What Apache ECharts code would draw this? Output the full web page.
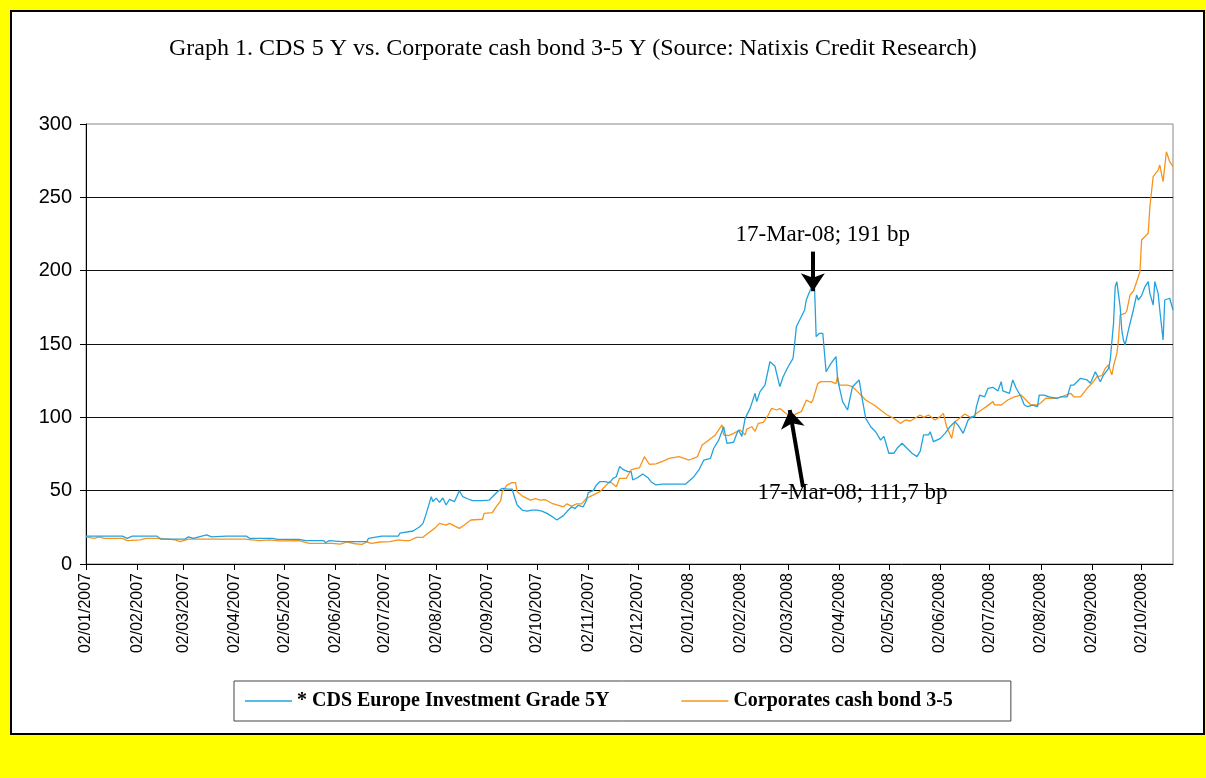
<!DOCTYPE html>
<html>
<head>
<meta charset="utf-8">
<script src="https://cdn.jsdelivr.net/npm/echarts@6/dist/echarts.min.js"></script>
<style>
  html, body { margin: 0; padding: 0; background: #FFFF00; }
  #wrap { position: relative; width: 1206px; height: 778px; background: #FFFF00; overflow: hidden; }
  #frame { position: absolute; left: 10px; top: 10px; width: 1191px; height: 721px; background: #fff; border: 2px solid #000; }
  #chart { position: absolute; left: 0; top: 0; width: 1206px; height: 778px; }
</style>
</head>
<body>
<div id="wrap"><div id="frame"></div><div id="chart"></div></div>
<script>
// ---------- DATA ----------
const titleText = 'Graph 1. CDS 5 Y vs. Corporate cash bond 3-5 Y (Source: Natixis Credit Research)';
const seriesNames = ['* CDS Europe Investment Grade 5Y', 'Corporates cash bond 3-5'];
const axisStart = '2007-01-02';
const axisEnd = '2008-10-21';
const yTicks = [0, 50, 100, 150, 200, 250, 300];

const cdsDates = [
'2007-01-02','2007-01-24','2007-01-27','2007-01-30','2007-02-14','2007-02-16','2007-03-03','2007-03-05','2007-03-08','2007-03-16',
'2007-03-19','2007-03-28','2007-04-09','2007-04-11','2007-04-25','2007-04-28','2007-05-11','2007-05-15','2007-05-26','2007-05-27',
'2007-05-29','2007-06-06','2007-06-21','2007-06-22','2007-06-30','2007-07-10','2007-07-11','2007-07-19','2007-07-23','2007-07-25',
'2007-07-27','2007-07-30','2007-07-31','2007-08-02','2007-08-04','2007-08-06','2007-08-08','2007-08-10','2007-08-13','2007-08-16',
'2007-08-18','2007-08-21','2007-08-24','2007-08-30','2007-09-03','2007-09-08','2007-09-11','2007-09-14','2007-09-17','2007-09-18',
'2007-09-20','2007-09-23','2007-09-26','2007-09-29','2007-10-02','2007-10-05','2007-10-08','2007-10-11','2007-10-14','2007-10-15',
'2007-10-18','2007-10-21','2007-10-23','2007-10-25','2007-10-27','2007-10-30','2007-11-01','2007-11-02','2007-11-05','2007-11-07',
'2007-11-09','2007-11-12','2007-11-15','2007-11-17','2007-11-19','2007-11-21','2007-11-23','2007-11-26','2007-11-28','2007-11-29',
'2007-12-02','2007-12-05','2007-12-08','2007-12-10','2007-12-13','2007-12-17','2007-12-31','2008-01-05','2008-01-08','2008-01-11',
'2008-01-15','2008-01-17','2008-01-20','2008-01-23','2008-01-25','2008-01-29','2008-01-31','2008-02-01','2008-02-03','2008-02-05',
'2008-02-08','2008-02-11','2008-02-12','2008-02-14','2008-02-17','2008-02-20','2008-02-23','2008-02-26','2008-02-28','2008-03-02',
'2008-03-05','2008-03-06','2008-03-07','2008-03-10','2008-03-12','2008-03-13','2008-03-15','2008-03-17','2008-03-18','2008-03-19',
'2008-03-21','2008-03-23','2008-03-25','2008-03-28','2008-03-31','2008-04-01','2008-04-04','2008-04-07','2008-04-10','2008-04-11',
'2008-04-14','2008-04-16','2008-04-18','2008-04-21','2008-04-24','2008-04-27','2008-04-29','2008-05-02','2008-05-05','2008-05-07',
'2008-05-10','2008-05-13','2008-05-16','2008-05-19','2008-05-21','2008-05-23','2008-05-26','2008-05-27','2008-05-29','2008-06-02',
'2008-06-05','2008-06-08','2008-06-11','2008-06-13','2008-06-16','2008-06-19','2008-06-21','2008-06-23','2008-06-24','2008-06-26',
'2008-06-27','2008-06-29','2008-07-01','2008-07-04','2008-07-07','2008-07-09','2008-07-10','2008-07-14','2008-07-16','2008-07-18',
'2008-07-21','2008-07-23','2008-07-25','2008-07-28','2008-07-31','2008-08-01','2008-08-04','2008-08-07','2008-08-08','2008-08-12',
'2008-08-14','2008-08-18','2008-08-20','2008-08-22','2008-08-26','2008-08-30','2008-09-01','2008-09-04','2008-09-07','2008-09-09',
'2008-09-12','2008-09-13','2008-09-15','2008-09-16','2008-09-17','2008-09-19','2008-09-20','2008-09-21','2008-09-22','2008-09-24',
'2008-09-27','2008-09-29','2008-09-30','2008-10-02','2008-10-04','2008-10-06','2008-10-07','2008-10-09','2008-10-10','2008-10-12',
'2008-10-13','2008-10-15','2008-10-16','2008-10-19','2008-10-21'
];
const cdsValues = [
19,19,17.5,19,19,17,17,18.5,17.5,19.8,
18.5,19,19,17.5,17.5,16.8,16.8,15.9,15.9,14.5,
15.9,15.2,15.2,17.5,19,19,21,22.5,25.4,27.7,
34.5,45.9,42.6,44.9,42,45,40.2,44,42.5,50,
46,44.5,43.2,43.2,43.5,49.3,51.6,51,51,47,
40.2,36.8,36,36.8,36.8,36,34.5,32.5,30,29.3,
33,36.8,39,37.8,40,39,43.6,48.6,50,53.9,
56.1,56.1,55.5,58.4,59.5,66.4,64.5,63,63,57.3,
59,61.4,59,56.1,53.9,54.5,54.5,59.5,64.1,70.9,
72,78.9,84.5,93.6,82.3,83,89,91.4,87,99.3,
106.1,116.4,110.7,117.5,122,137.9,135,120.9,127.7,134.5,
140.2,150.5,161.8,168.6,173.2,180,185.7,191,189,155,
157.3,157.3,131.1,136.8,141.4,125.5,110.7,105,120.9,122,
125.5,111.8,99.3,93.6,90.2,84.5,87,75.5,75.5,78.9,
82.3,78.9,75.5,73.2,77,88,88,90.2,83.4,85.5,
89.1,93.6,97,94.5,89.1,98.2,100.4,100.4,107.3,115.2,
116,114,119.8,120.5,118,124.3,118,116.4,125.5,120,
114,108.4,107.3,108.4,107.3,115.2,115.2,114,115.2,113,
114,114,122,122,126.6,125.5,123.2,131.1,124.3,129,
133.4,139.1,164.1,189,192.5,175.4,159.5,152.7,149.3,159.5,
173.2,183.4,180,183,189,192.5,184.5,176.6,192.5,184.5,
173.2,152.7,180,181.2,173.2
];

const bondDates = [
'2007-01-02','2007-01-07','2007-01-10','2007-01-13','2007-01-24','2007-01-27','2007-02-04','2007-02-07','2007-02-16','2007-02-25',
'2007-02-28','2007-03-05','2007-03-23','2007-04-08','2007-04-17','2007-04-23','2007-04-29','2007-05-11','2007-05-17','2007-05-31',
'2007-06-05','2007-06-09','2007-06-14','2007-06-18','2007-06-21','2007-06-24','2007-06-29','2007-07-05','2007-07-10','2007-07-11',
'2007-07-14','2007-07-17','2007-07-21','2007-07-25','2007-07-26','2007-07-28','2007-08-01','2007-08-04','2007-08-08','2007-08-10',
'2007-08-13','2007-08-16','2007-08-19','2007-08-23','2007-08-30','2007-08-31','2007-09-05','2007-09-07','2007-09-10','2007-09-11',
'2007-09-14','2007-09-17','2007-09-19','2007-09-20','2007-09-23','2007-09-28','2007-10-01','2007-10-04','2007-10-07','2007-10-11',
'2007-10-18','2007-10-20','2007-10-23','2007-10-26','2007-10-29','2007-11-01','2007-11-04','2007-11-09','2007-11-15','2007-11-17',
'2007-11-19','2007-11-21','2007-11-25','2007-11-28','2007-12-01','2007-12-03','2007-12-06','2007-12-09','2007-12-13','2007-12-17',
'2007-12-21','2007-12-27','2008-01-02','2008-01-07','2008-01-10','2008-01-14','2008-01-18','2008-01-22','2008-01-23','2008-01-26',
'2008-01-29','2008-02-02','2008-02-05','2008-02-06','2008-02-09','2008-02-11','2008-02-13','2008-02-16','2008-02-19','2008-02-21',
'2008-02-24','2008-02-26','2008-03-02','2008-03-04','2008-03-07','2008-03-10','2008-03-12','2008-03-13','2008-03-16','2008-03-17',
'2008-03-20','2008-03-22','2008-03-28','2008-03-31','2008-04-01','2008-04-02','2008-04-07','2008-04-10','2008-04-13','2008-04-18',
'2008-04-23','2008-04-27','2008-05-01','2008-05-05','2008-05-09','2008-05-12','2008-05-15','2008-05-21','2008-05-23','2008-05-26',
'2008-05-30','2008-06-02','2008-06-04','2008-06-06','2008-06-09','2008-06-11','2008-06-14','2008-06-17','2008-06-21','2008-06-24',
'2008-06-27','2008-06-30','2008-07-04','2008-07-05','2008-07-09','2008-07-13','2008-07-17','2008-07-21','2008-07-23','2008-07-27',
'2008-07-31','2008-08-02','2008-08-05','2008-08-12','2008-08-20','2008-08-22','2008-08-26','2008-08-30','2008-09-02','2008-09-05',
'2008-09-08','2008-09-10','2008-09-12','2008-09-13','2008-09-14','2008-09-15','2008-09-17','2008-09-18','2008-09-19','2008-09-22',
'2008-09-23','2008-09-25','2008-09-27','2008-09-28','2008-09-30','2008-10-01','2008-10-02','2008-10-06','2008-10-07','2008-10-09',
'2008-10-12','2008-10-13','2008-10-15','2008-10-17','2008-10-19','2008-10-21'
];
const bondValues = [
18.5,17.5,18.5,17.5,17.5,16,16.5,17.5,17.5,16.5,
15.2,17,17,17,16,16.5,15.8,16,14.1,14.1,
13.5,15,13.8,13.4,15,14.1,15,15.2,16.4,17.5,
16,16,18.2,18.2,17,20.9,24.3,27.7,26.5,27.7,
26,24.3,26.6,30,30.5,34.5,35,38.6,43,49.3,
53.9,55.5,55.5,49.3,46.5,43.6,44.5,43.6,43.8,41.4,
39,41,39.5,41,41,44.8,46.5,49.3,56.1,54.5,
52.7,58.4,58.4,64.1,65.2,65.5,73.2,68,68.2,70,
72,73.2,70.9,73,81.1,84.5,88,94.8,88,87.5,
89.1,91.4,88,92,93.6,90.5,95.9,96.5,101.6,106.1,
105,106,101.6,100.4,102.5,103.9,109,111.8,110,111.7,
123.2,124.3,124.3,123,127.7,122,122,120.9,117.5,111.8,
108.4,105,101.6,99.3,95.9,98.2,97.5,101.6,100,101.6,
98.2,100.5,102.7,93.6,85.7,97,99.5,102.3,99.5,102.7,
105,107.3,110.7,108.5,108.4,111.8,114,115.2,113,108.4,
108.4,110,113,113,116.4,114,114,119.8,123.2,127.7,
128.5,133.4,135.7,132,128.9,135,143.6,152.7,169.8,170.9,
172.5,183.4,186,189,195.9,199.3,220.9,225.5,243.6,264.1,
268.6,272,260.7,281.1,274.3,270.9
];

// annotations
const peakNote = { text: '17-Mar-08; 191 bp', date: '2008-03-23', value: 224.5 };
const bondNote = { text: '17-Mar-08; 111,7 bp', date: '2008-04-10', value: 48.4 };
const peakArrow = [['2008-03-17', 213], ['2008-03-17', 186]];
const bondArrow = [['2008-03-11', 52.5], ['2008-03-03', 105]];

// ---------- BUILD ----------
function buildDays(a, b) {
  const out = [];
  const [ya, ma, da] = a.split('-').map(Number);
  const [yb, mb, db] = b.split('-').map(Number);
  let t = Date.UTC(ya, ma - 1, da);
  const end = Date.UTC(yb, mb - 1, db);
  while (t <= end) {
    out.push(new Date(t).toISOString().slice(0, 10));
    t += 86400000;
  }
  return out;
}
const days = buildDays(axisStart, axisEnd);
const isMonthMark = (idx, val) => val.slice(8, 10) === '02';
const fmt = v => v.slice(8, 10) + '/' + v.slice(5, 7) + '/' + v.slice(0, 4);

const BLUE = '#22A3DE';
const ORANGE = '#F7941D';
const SERIF = '"Liberation Serif", "DejaVu Serif", serif';
const SANS = '"Liberation Sans", Arial, sans-serif';

const chart = echarts.init(document.getElementById('chart'), null, { renderer: 'canvas' });
chart.setOption({
  backgroundColor: 'transparent',
  animation: false,
  title: {
    text: titleText, left: 164, top: 32,
    textStyle: { fontFamily: SERIF, fontSize: 24, fontWeight: 'normal', color: '#000' }
  },
  legend: {
    data: seriesNames, left: 234, top: 681,
    icon: 'rect', itemWidth: 47, itemHeight: 1.5, itemGap: 72,
    backgroundColor: '#fff', borderColor: '#444', borderWidth: 1,
    padding: [10, 58, 10, 11],
    textStyle: { fontFamily: SERIF, fontSize: 20, fontWeight: 'bold', color: '#000' }
  },
  grid: {
    left: 86, right: 33, top: 124, bottom: 214,
    show: true, borderColor: '#888', borderWidth: 1, backgroundColor: 'transparent'
  },
  xAxis: {
    type: 'category', data: days, boundaryGap: false,
    axisLine: { lineStyle: { color: '#000', width: 1 } },
    axisTick: { show: true, interval: isMonthMark, length: 6, lineStyle: { color: '#000' } },
    axisLabel: {
      interval: isMonthMark, rotate: 90, formatter: fmt, margin: 9,
      fontFamily: SANS, fontSize: 16, color: '#000'
    },
    splitLine: { show: false }
  },
  yAxis: {
    type: 'value', min: yTicks[0], max: yTicks[yTicks.length - 1], interval: 50,
    axisLine: { show: true, lineStyle: { color: '#000', width: 1 } },
    axisTick: { show: true, length: 6, lineStyle: { color: '#000' } },
    axisLabel: { margin: 14, fontFamily: SANS, fontSize: 20, color: '#000' },
    splitLine: { show: true, showMinLine: false, showMaxLine: false, lineStyle: { color: '#111', width: 1.2 } }
  },
  series: [
    {
      name: seriesNames[0], type: 'line', symbol: 'none', z: 3,
      lineStyle: { color: BLUE, width: 1.3 }, itemStyle: { color: BLUE },
      data: cdsDates.map((d, i) => [d, cdsValues[i]]),
      markLine: {
        silent: true, symbol: ['none', 'arrow'], symbolSize: 18,
        lineStyle: { color: '#000', width: 4, type: 'solid' },
        label: { show: false },
        data: [
          [{ coord: peakArrow[0] }, { coord: peakArrow[1] }],
          [{ coord: bondArrow[0] }, { coord: bondArrow[1] }]
        ]
      },
      markPoint: {
        silent: true, symbol: 'rect', symbolSize: 1,
        itemStyle: { color: 'rgba(0,0,0,0)' },
        label: { show: true, position: 'inside', fontFamily: SERIF, fontSize: 23, color: '#000' },
        data: [
          { coord: [peakNote.date, peakNote.value], label: { formatter: peakNote.text } },
          { coord: [bondNote.date, bondNote.value], label: { formatter: bondNote.text } }
        ]
      }
    },
    {
      name: seriesNames[1], type: 'line', symbol: 'none', z: 2,
      lineStyle: { color: ORANGE, width: 1.3 }, itemStyle: { color: ORANGE },
      data: bondDates.map((d, i) => [d, bondValues[i]])
    }
  ]
});
</script>
</body>
</html>
